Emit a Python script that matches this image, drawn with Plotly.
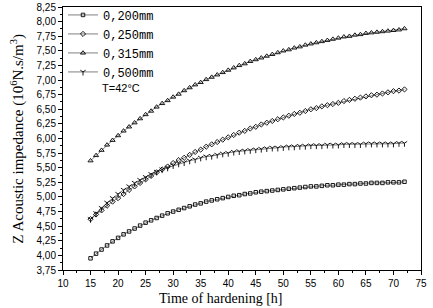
import plotly.graph_objects as go

hours = [15, 16, 17, 18, 19, 20, 21, 22, 23, 24, 25, 26, 27, 28, 29, 30, 31, 32, 33, 34,
         35, 36, 37, 38, 39, 40, 41, 42, 43, 44, 45, 46, 47, 48, 49, 50, 51, 52, 53, 54,
         55, 56, 57, 58, 59, 60, 61, 62, 63, 64, 65, 66, 67, 68, 69, 70, 71, 72]

z_200 = [3.95, 4.03, 4.10, 4.17, 4.24, 4.30, 4.36, 4.41, 4.46, 4.51, 4.56, 4.60, 4.64, 4.68,
         4.72, 4.75, 4.78, 4.81, 4.84, 4.87, 4.89, 4.92, 4.94, 4.96, 4.98, 5.00, 5.02, 5.03,
         5.05, 5.06, 5.08, 5.09, 5.10, 5.11, 5.12, 5.13, 5.14, 5.15, 5.16, 5.17, 5.18, 5.18,
         5.19, 5.20, 5.20, 5.21, 5.21, 5.22, 5.22, 5.23, 5.23, 5.24, 5.24, 5.24, 5.25, 5.25,
         5.25, 5.26]

z_250 = [4.62, 4.70, 4.77, 4.85, 4.92, 4.98, 5.05, 5.12, 5.18, 5.24, 5.30, 5.36, 5.42, 5.47,
         5.52, 5.58, 5.63, 5.67, 5.72, 5.77, 5.81, 5.86, 5.90, 5.94, 5.98, 6.02, 6.06, 6.10,
         6.13, 6.17, 6.20, 6.24, 6.27, 6.30, 6.33, 6.36, 6.39, 6.42, 6.44, 6.47, 6.50, 6.52,
         6.55, 6.57, 6.59, 6.61, 6.64, 6.66, 6.68, 6.70, 6.72, 6.74, 6.75, 6.77, 6.79, 6.81,
         6.82, 6.84]

z_315 = [5.62, 5.71, 5.80, 5.89, 5.97, 6.05, 6.13, 6.20, 6.27, 6.34, 6.41, 6.47, 6.54, 6.60,
         6.65, 6.71, 6.76, 6.82, 6.87, 6.92, 6.96, 7.01, 7.05, 7.09, 7.13, 7.17, 7.21, 7.25,
         7.28, 7.32, 7.35, 7.38, 7.41, 7.44, 7.47, 7.50, 7.52, 7.55, 7.57, 7.60, 7.62, 7.64,
         7.66, 7.68, 7.70, 7.72, 7.74, 7.75, 7.77, 7.78, 7.80, 7.81, 7.82, 7.83, 7.84, 7.85,
         7.86, 7.88]

z_500 = [4.62, 4.72, 4.81, 4.90, 4.98, 5.05, 5.12, 5.18, 5.24, 5.29, 5.34, 5.39, 5.43, 5.47,
         5.50, 5.54, 5.57, 5.59, 5.62, 5.64, 5.67, 5.69, 5.70, 5.72, 5.74, 5.75, 5.77, 5.78,
         5.79, 5.80, 5.81, 5.82, 5.83, 5.84, 5.84, 5.85, 5.86, 5.86, 5.87, 5.87, 5.88, 5.88,
         5.88, 5.89, 5.89, 5.89, 5.90, 5.90, 5.90, 5.90, 5.91, 5.91, 5.91, 5.91, 5.91, 5.91,
         5.92, 5.92]

series_names = ["0,200mm", "0,250mm", "0,315mm", "0,500mm"]
series_values = [z_200, z_250, z_315, z_500]
symbols = ["square-open", "diamond-open", "triangle-up-open", "y-down-open"]
sizes = [3.5, 4, 4.5, 4.5]

x_ticks = [10, 15, 20, 25, 30, 35, 40, 45, 50, 55, 60, 65, 70, 75]
y_ticks = [3.75, 4.00, 4.25, 4.50, 4.75, 5.00, 5.25, 5.50, 5.75, 6.00, 6.25, 6.50,
           6.75, 7.00, 7.25, 7.50, 7.75, 8.00, 8.25]

fig = go.Figure()
for name, vals, sym, sz in zip(series_names, series_values, symbols, sizes):
    fig.add_trace(go.Scatter(
        x=hours, y=vals, name=name, mode="lines+markers",
        line=dict(color="black", width=0.5),
        marker=dict(symbol=sym, size=sz, color="black", line=dict(color="black", width=0.9)),
    ))

tick_font = dict(family="Liberation Sans, Arial, sans-serif", size=10, color="black")
fig.update_layout(
    width=433, height=308,
    margin=dict(l=63, r=12, t=7, b=38, autoexpand=False),
    paper_bgcolor="white", plot_bgcolor="white",
    separators=",.",
    showlegend=True,
    legend=dict(
        x=0.0, y=1.025, xanchor="left", yanchor="top",
        bgcolor="rgba(0,0,0,0)",
        font=dict(family="Liberation Mono, Courier New, monospace", size=12, color="black"),
        itemwidth=30, tracegroupgap=0,
    ),
    xaxis=dict(
        range=[10, 75], tickvals=x_ticks, ticktext=[str(v) for v in x_ticks],
        showline=True, linecolor="black", linewidth=1, mirror=True,
        ticks="outside", ticklen=4, tickcolor="black", automargin=False,
        minor=dict(ticks="outside", ticklen=2, dtick=2.5, tick0=10, tickcolor="black"),
        showgrid=False, zeroline=False, tickfont=tick_font,
    ),
    yaxis=dict(
        range=[3.75, 8.25], tickvals=y_ticks, tickformat=".2f",
        showline=True, linecolor="black", linewidth=1, mirror=True,
        ticks="outside", ticklen=4, tickcolor="black", automargin=False,
        minor=dict(ticks="outside", ticklen=2, dtick=0.125, tick0=3.75, tickcolor="black"),
        showgrid=False, zeroline=False, tickfont=tick_font,
    ),
    annotations=[
        dict(text="T=42°C", xref="paper", yref="paper", x=0.103, y=0.692,
             xanchor="left", yanchor="middle", showarrow=False,
             font=dict(family="Liberation Sans, Arial, sans-serif", size=11, color="black")),
        dict(text="Time of hardening [h]", xref="paper", yref="paper", x=0.44, y=-0.107,
             xanchor="center", yanchor="middle", showarrow=False,
             font=dict(family="Liberation Serif, Times New Roman, serif", size=14, color="black")),
        dict(text="Z Acoustic impedance (10<sup>6</sup>N.s/m<sup>3</sup>)", xref="paper", yref="paper",
             x=-0.128, y=0.5, xanchor="center", yanchor="middle", textangle=-90, showarrow=False,
             font=dict(family="Liberation Serif, Times New Roman, serif", size=15, color="black")),
    ],
)

fig.write_html("out.html", config={"displayModeBar": False},
               post_script="document.body.style.margin='0';")
